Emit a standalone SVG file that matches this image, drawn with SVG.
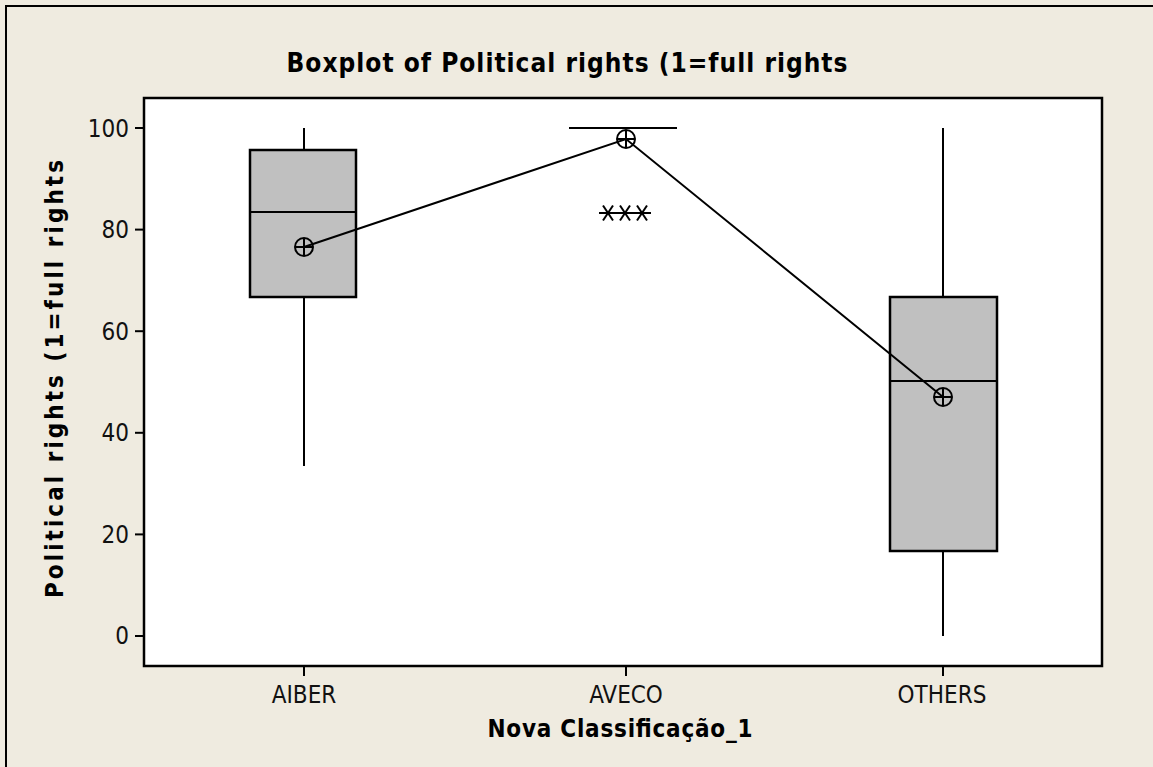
<svg xmlns="http://www.w3.org/2000/svg" width="1153" height="767" viewBox="0 0 1153 767">
<style>
.lbl{font-family:"DejaVu Sans Condensed","DejaVu Sans","Liberation Sans",sans-serif;font-size:24px;fill:#111;}
.bold{font-family:"DejaVu Sans Condensed","DejaVu Sans","Liberation Sans",sans-serif;font-weight:bold;fill:#000;}
.ln{stroke:#000;stroke-width:2;fill:none;}
.box{fill:#C0C0C0;stroke:#000;stroke-width:2.5;}
.mean{fill:none;stroke:#000;stroke-width:2;}
</style>
<defs>
<g id="meansym"><circle r="9" class="mean"/><line x1="-9" y1="0" x2="9" y2="0" class="mean"/><line x1="0" y1="-9" x2="0" y2="9" class="mean"/></g>
<g id="ast"><line x1="-9" y1="0" x2="9" y2="0" class="ln"/><line x1="-5" y1="-7.5" x2="5" y2="7.5" class="ln"/><line x1="-5" y1="7.5" x2="5" y2="-7.5" class="ln"/></g>
</defs>
<rect x="0" y="0" width="1153" height="767" fill="#EFEBE0"/>
<rect x="6" y="6" width="1160" height="780" fill="none" stroke="#000" stroke-width="2"/>
<text class="bold" x="567" y="72" font-size="26" text-anchor="middle" textLength="561">Boxplot of Political rights (1=full rights</text>
<g id="plotarea">
<rect x="144" y="98" width="958" height="568" fill="#FFF" stroke="#000" stroke-width="2.5"/>
</g>
<g id="yaxis">
<line x1="135" y1="128" x2="144" y2="128" class="ln"/>
<line x1="135" y1="229.6" x2="144" y2="229.6" class="ln"/>
<line x1="135" y1="331.2" x2="144" y2="331.2" class="ln"/>
<line x1="135" y1="432.8" x2="144" y2="432.8" class="ln"/>
<line x1="135" y1="534.4" x2="144" y2="534.4" class="ln"/>
<line x1="135" y1="636" x2="144" y2="636" class="ln"/>
<text class="lbl" x="129" y="137" text-anchor="end">100</text>
<text class="lbl" x="129" y="238" text-anchor="end">80</text>
<text class="lbl" x="129" y="340" text-anchor="end">60</text>
<text class="lbl" x="129" y="441" text-anchor="end">40</text>
<text class="lbl" x="129" y="543" text-anchor="end">20</text>
<text class="lbl" x="129" y="644" text-anchor="end">0</text>
<text class="bold" font-size="24" transform="translate(63,379) rotate(-90)" text-anchor="middle" textLength="438">Political rights (1=full rights</text>
</g>
<g id="xaxis">
<line x1="304" y1="666" x2="304" y2="676" class="ln"/>
<line x1="626" y1="666" x2="626" y2="676" class="ln"/>
<line x1="943" y1="666" x2="943" y2="676" class="ln"/>
<text class="lbl" x="304" y="703" text-anchor="middle">AIBER</text>
<text class="lbl" x="626" y="703" text-anchor="middle">AVECO</text>
<text class="lbl" x="942" y="703" text-anchor="middle">OTHERS</text>
<text class="bold" x="620" y="737" font-size="24" text-anchor="middle" textLength="265">Nova Classificação_1</text>
</g>
<g id="box-aiber">
<line x1="304" y1="128" x2="304" y2="150" class="ln"/>
<line x1="304" y1="297" x2="304" y2="466" class="ln"/>
<rect x="250" y="150" width="106" height="147" class="box"/>
<line x1="250" y1="212" x2="356" y2="212" class="ln"/>
</g>
<g id="box-aveco">
<line x1="569" y1="128" x2="677" y2="128" class="ln"/>
<use href="#ast" x="608" y="213"/>
<use href="#ast" x="625" y="213"/>
<use href="#ast" x="642" y="213"/>
</g>
<g id="box-others">
<line x1="943" y1="128" x2="943" y2="297" class="ln"/>
<line x1="943" y1="551" x2="943" y2="636" class="ln"/>
<rect x="890" y="297" width="107" height="254" class="box"/>
<line x1="890" y1="381" x2="997" y2="381" class="ln"/>
</g>
<g id="connectors">
<polyline points="304,247 626,139 943,397" class="ln"/>
</g>
<g id="means">
<use href="#meansym" x="304" y="247"/>
<use href="#meansym" x="626" y="139"/>
<use href="#meansym" x="943" y="397"/>
</g>
</svg>
